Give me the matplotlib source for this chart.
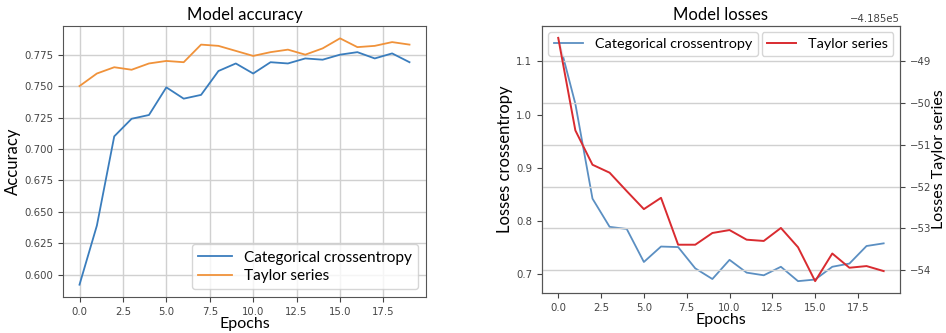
import numpy as np
import matplotlib
matplotlib.use("Agg")
import matplotlib.pyplot as plt

# values
epochs = list(range(20))
acc_crossentropy = [0.592, 0.639, 0.710, 0.724, 0.727, 0.749, 0.740, 0.743, 0.762, 0.768,
                    0.760, 0.769, 0.768, 0.772, 0.771, 0.775, 0.777, 0.772, 0.776, 0.769]
acc_taylor = [0.750, 0.760, 0.765, 0.763, 0.768, 0.770, 0.769, 0.783, 0.782, 0.778,
              0.774, 0.777, 0.779, 0.775, 0.780, 0.788, 0.781, 0.782, 0.785, 0.783]
loss_crossentropy = [1.144, 1.020, 0.842, 0.789, 0.785, 0.723, 0.752, 0.751, 0.711, 0.691,
                     0.727, 0.703, 0.698, 0.714, 0.687, 0.690, 0.714, 0.720, 0.753, 0.758]
loss_taylor_rel = [-48.45, -50.66, -51.48, -51.67, -52.11, -52.54, -52.27, -53.39, -53.39, -53.11,
                   -53.04, -53.27, -53.30, -52.99, -53.45, -54.26, -53.60, -53.94, -53.90, -54.02]
loss_taylor = [-418500 + v for v in loss_taylor_rel]

label_font = "Lato"
tick_color = "#444444"
frame_color = "#555555"
grid_color = "#d0d0d0"

plt.rcParams["font.family"] = "DejaVu Sans"
plt.rcParams["xtick.labelsize"] = 7.3
plt.rcParams["ytick.labelsize"] = 7.3
plt.rcParams["xtick.color"] = tick_color
plt.rcParams["ytick.color"] = tick_color

fig = plt.figure(figsize=(9.46, 3.33), dpi=100)

# left panel: accuracy
ax = fig.add_axes([0.0666, 0.1081, 0.3837, 0.8138])
ax.plot(epochs, acc_crossentropy, color="#3a7dbd", lw=1.3, label="Categorical crossentropy")
ax.plot(epochs, acc_taylor, color="#f0923a", lw=1.3, label="Taylor series")
ax.grid(True, color=grid_color, lw=1.0)
ax.set_title("Model accuracy", fontsize=12, family=label_font, pad=4)
ax.set_xlabel("Epochs", fontsize=11.5, family=label_font, labelpad=0)
ax.set_ylabel("Accuracy", fontsize=12, family=label_font, labelpad=2)
ax.legend(loc="lower right", prop={"family": label_font, "size": 11.1},
          handlelength=2.2, borderpad=0.4, labelspacing=0.3)
for s in ax.spines.values():
    s.set_color(frame_color)

# right panel: losses with twin axis
ax1 = fig.add_axes([0.5729, 0.1192, 0.3784, 0.8036])
ax1.plot(epochs, loss_crossentropy, color="#5b8fc2", lw=1.3, label="Categorical crossentropy")
ax1.set_title("Model losses", fontsize=12, family=label_font, pad=4)
ax1.set_xlabel("Epochs", fontsize=11.5, family=label_font, labelpad=0)
ax1.set_ylabel("Losses crossentropy", fontsize=12, family=label_font, labelpad=2)
ax1.set_yticks([0.7, 0.8, 0.9, 1.0, 1.1])
ax1.legend(loc="upper left", prop={"family": label_font, "size": 10.4},
           borderaxespad=0.45)

ax2 = ax1.twinx()
ax2.plot(epochs, loss_taylor, color="#d92b30", lw=1.4, label="Taylor series")
ax2.grid(True, axis="y", color=grid_color, lw=1.0)
ax2.set_ylabel("Losses Taylor series", fontsize=11.5, family=label_font, labelpad=1)
ax2.yaxis.get_offset_text().set_fontsize(7.3)
ax2.legend(loc="upper right", prop={"family": label_font, "size": 10.4},
           borderaxespad=0.45)
for a in (ax1, ax2):
    for s in a.spines.values():
        s.set_color(frame_color)

fig.savefig("out.png", dpi=100)
